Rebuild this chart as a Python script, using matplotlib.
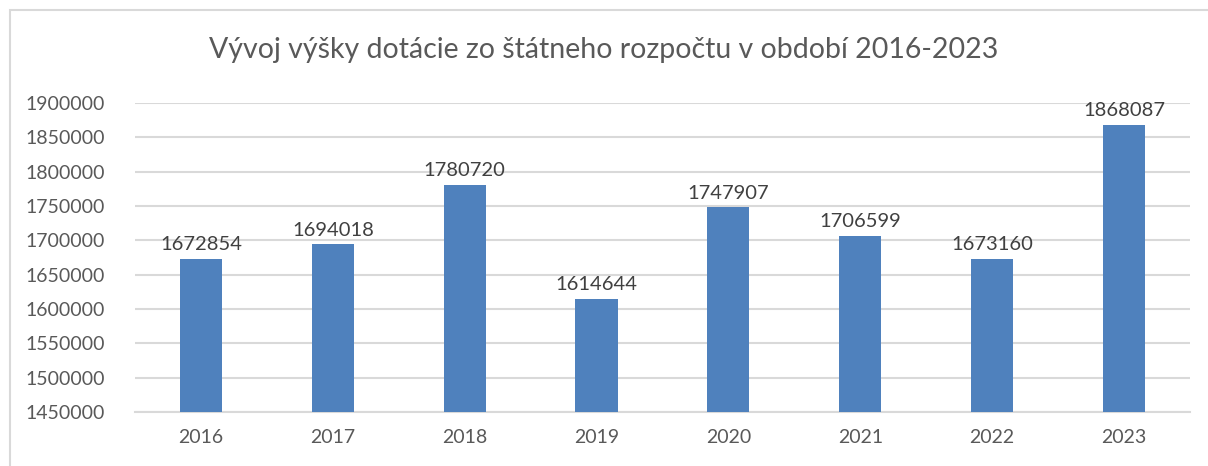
import matplotlib.pyplot as plt
from matplotlib.patches import Rectangle

years = ["2016", "2017", "2018", "2019", "2020", "2021", "2022", "2023"]
values = [1672854, 1694018, 1780720, 1614644, 1747907, 1706599, 1673160, 1868087]
y_ticks = list(range(1450000, 1900001, 50000))

plt.rcParams["font.family"] = ["Lato", "DejaVu Sans"]
text_color = "#595959"
bar_color = "#4F81BD"
grid_color = "#D9D9D9"

fig = plt.figure(figsize=(12.08, 4.66), dpi=100)
ax = fig.add_axes([0.1118, 0.1159, 0.985 - 0.1118, 0.779 - 0.1159])

# Chart frame (top/left border visible)
fig.patches.append(Rectangle((10 / 1208, -0.1), 1.2, 1 - 10 / 466 + 0.1,
                             transform=fig.transFigure, fill=False,
                             edgecolor="#D9D9D9", linewidth=1.5))

x = range(len(years))
ax.bar(x, values, width=0.32, color=bar_color, zorder=3)

for xi, v in zip(x, values):
    ax.text(xi, v + 8000, str(v), ha="center", va="bottom",
            fontsize=14.5, color="#404040")

ax.set_xlim(-0.5, len(years) - 0.5)
ax.set_ylim(1450000, 1900000)
ax.set_yticks(y_ticks)
ax.set_yticklabels([str(t) for t in y_ticks])
ax.set_xticks(list(x))
ax.set_xticklabels(years)
ax.yaxis.grid(True, color=grid_color, linewidth=1.5, zorder=0)
ax.set_axisbelow(True)

for side in ["top", "right", "left"]:
    ax.spines[side].set_visible(False)
ax.spines["bottom"].set_color(grid_color)
ax.spines["bottom"].set_linewidth(1.5)

ax.tick_params(axis="both", length=0, labelsize=14, colors=text_color)
ax.tick_params(axis="y", pad=22)
ax.tick_params(axis="x", pad=12)

fig.text(0.5, 1 - 50 / 466, "Vývoj výšky dotácie zo štátneho rozpočtu v období 2016-2023",
         ha="center", va="center", fontsize=20.5, color=text_color)

fig.savefig("out.png", dpi=100)
